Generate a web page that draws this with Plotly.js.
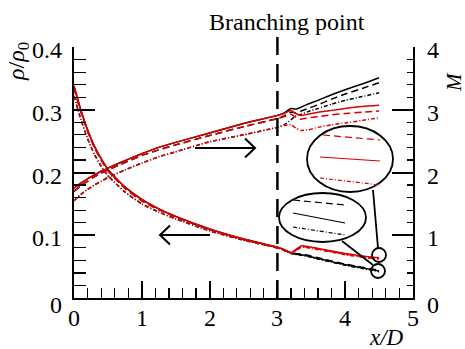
<!DOCTYPE html>
<html>
<head>
<meta charset="utf-8">
<script src="https://cdn.plot.ly/plotly-3.0.1.min.js"></script>
<style>
  html, body { margin: 0; padding: 0; background: #fff; }
  #chart { width: 465px; height: 349px; }
</style>
</head>
<body>
<div id="chart"></div>
<script>
// Streamwise stations (x/D) shared by all cases up to the branching point
const xPre = [0, 0.1, 0.2, 0.3, 0.4, 0.5, 0.75, 1.0, 1.25, 1.5, 2.0, 2.5, 3.0];
// Stations downstream of the branching point
const xPost = [3.1, 3.2, 3.27, 3.35, 3.45, 3.6, 3.8, 4.0, 4.25, 4.5];

// Density ratio rho/rho0 upstream of the branch (identical for both branches)
const rhoSolidPre   = [0.338, 0.300, 0.268, 0.242, 0.222, 0.205, 0.177, 0.157, 0.142, 0.130, 0.110, 0.094, 0.081];
const rhoDashPre    = [0.335, 0.297, 0.266, 0.240, 0.220, 0.203, 0.175, 0.155, 0.141, 0.129, 0.109, 0.093, 0.080];
const rhoDashDotPre = [0.322, 0.285, 0.254, 0.229, 0.210, 0.195, 0.169, 0.150, 0.137, 0.126, 0.107, 0.092, 0.080];

// Mach number upstream of the branch
const machSolidPre   = [1.75, 1.83, 1.90, 1.96, 2.02, 2.07, 2.19, 2.30, 2.40, 2.48, 2.63, 2.78, 2.91];
const machDashPre    = [1.70, 1.79, 1.86, 1.93, 1.99, 2.04, 2.16, 2.27, 2.36, 2.44, 2.59, 2.73, 2.86];
const machDashDotPre = [1.55, 1.65, 1.73, 1.80, 1.86, 1.92, 2.04, 2.15, 2.25, 2.33, 2.49, 2.60, 2.72];

// Downstream of the branch: black branch
const rhoBlackSolidPost   = [0.077, 0.072, 0.070, 0.069, 0.067, 0.063, 0.058, 0.053, 0.048, 0.043];
const rhoBlackDashPost    = [0.076, 0.072, 0.071, 0.070, 0.068, 0.064, 0.059, 0.054, 0.049, 0.044];
const rhoBlackDashDotPost = [0.076, 0.071, 0.069, 0.068, 0.066, 0.062, 0.057, 0.052, 0.047, 0.042];
const machBlackSolidPost   = [2.95, 3.02, 3.01, 3.04, 3.09, 3.15, 3.24, 3.32, 3.41, 3.51];
const machBlackDashPost    = [2.90, 2.96, 2.95, 2.98, 3.02, 3.08, 3.17, 3.25, 3.34, 3.43];
const machBlackDashDotPost = [2.76, 2.84, 2.90, 2.93, 2.97, 3.02, 3.09, 3.15, 3.21, 3.27];

// Downstream of the branch: red branch
const rhoRedSolidPost   = [0.077, 0.072, 0.077, 0.083, 0.082, 0.079, 0.075, 0.071, 0.067, 0.064];
const rhoRedDashPost    = [0.076, 0.072, 0.076, 0.082, 0.081, 0.078, 0.074, 0.070, 0.066, 0.063];
const rhoRedDashDotPost = [0.076, 0.071, 0.075, 0.081, 0.080, 0.077, 0.073, 0.069, 0.065, 0.062];
const machRedSolidPost   = [2.94, 2.99, 2.94, 2.91, 2.93, 2.96, 2.99, 3.02, 3.05, 3.07];
const machRedDashPost    = [2.89, 2.93, 2.88, 2.85, 2.87, 2.89, 2.92, 2.94, 2.96, 2.98];
const machRedDashDotPost = [2.75, 2.76, 2.71, 2.67, 2.68, 2.72, 2.76, 2.79, 2.83, 2.87];

// Axis tick values and their labels
const xTicks = [0, 1, 2, 3, 4, 5];
const xTickText = ['0', '1', '2', '3', '4', '5'];
const rhoTicks = [0, 0.1, 0.2, 0.3, 0.4];
const rhoTickText = ['0', '0.1', '0.2', '0.3', '0.4'];
const machTicks = [0, 1, 2, 3, 4];
const machTickText = ['0', '1', '2', '3', '4'];

const BLACK = '#000000';
const RED = '#d80000';
const DASH = '7px,4px';
const DASHDOT = '4px,2px,1px,2px';
const FONT = 'Liberation Serif';
const TICK_SIZE = 24;

const xAll = xPre.concat(xPost);

function curve(yPre, yPost, color, dash, axis) {
  return {
    x: xAll,
    y: yPre.concat(yPost),
    yaxis: axis,
    type: 'scatter',
    mode: 'lines',
    line: { color: color, width: 1.5, dash: dash, shape: 'spline', smoothing: 0.5 },
    hoverinfo: 'skip',
    showlegend: false
  };
}

// Black branch drawn first, red branch on top
const traces = [
  curve(rhoSolidPre, rhoBlackSolidPost, BLACK, 'solid', 'y'),
  curve(rhoDashPre, rhoBlackDashPost, BLACK, DASH, 'y'),
  curve(rhoDashDotPre, rhoBlackDashDotPost, BLACK, DASHDOT, 'y'),
  curve(machSolidPre, machBlackSolidPost, BLACK, 'solid', 'y2'),
  curve(machDashPre, machBlackDashPost, BLACK, DASH, 'y2'),
  curve(machDashDotPre, machBlackDashDotPost, BLACK, DASHDOT, 'y2'),
  curve(rhoSolidPre, rhoRedSolidPost, RED, 'solid', 'y'),
  curve(rhoDashPre, rhoRedDashPost, RED, DASH, 'y'),
  curve(rhoDashDotPre, rhoRedDashDotPost, RED, DASHDOT, 'y'),
  curve(machSolidPre, machRedSolidPost, RED, 'solid', 'y2'),
  curve(machDashPre, machRedDashPost, RED, DASH, 'y2'),
  curve(machDashDotPre, machRedDashDotPost, RED, DASHDOT, 'y2')
];

// Plot frame in pixels, used to place the callout decorations
const FR = { l: 74, r: 413, t: 47, b: 298 };
const px = v => (v - FR.l) / (FR.r - FR.l);
const py = v => (FR.b - v) / (FR.b - FR.t);

function seg(x0, y0, x1, y1, color, dash, width) {
  return { type: 'line', xref: 'paper', yref: 'paper',
    x0: px(x0), y0: py(y0), x1: px(x1), y1: py(y1),
    line: { color: color, width: width || 1.5, dash: dash || 'solid' } };
}
function ellipse(cx, cy, rx, ry) {
  return { type: 'circle', xref: 'paper', yref: 'paper',
    x0: px(cx - rx), x1: px(cx + rx), y0: py(cy + ry), y1: py(cy - ry),
    line: { color: BLACK, width: 1.8 }, fillcolor: 'rgba(255,255,255,1)' };
}
function chevron(pts) {
  return { type: 'path', xref: 'paper', yref: 'paper',
    path: 'M' + pts.map(p => px(p[0]) + ',' + py(p[1])).join(' L'),
    line: { color: BLACK, width: 2 } };
}

const shapes = [
  // branching point marker
  { type: 'line', xref: 'x', yref: 'paper', x0: 3, x1: 3, y0: 0, y1: py(37),
    line: { color: BLACK, width: 2.5, dash: '18px,9px' } },
  // direction arrows
  seg(195, 148, 255, 148, BLACK, 'solid', 2),
  chevron([[245, 138.5], [255, 148], [245, 157.5]]),
  seg(160, 235, 210, 235, BLACK, 'solid', 2),
  chevron([[170, 225.5], [160, 235], [170, 244.5]]),
  // callout connectors and end markers
  seg(373, 190, 378, 248, BLACK, 'solid', 1.8),
  seg(342, 241, 373, 265, BLACK, 'solid', 1.8),
  { type: 'circle', xref: 'paper', yref: 'paper', x0: px(372), x1: px(386), y0: py(262), y1: py(248),
    line: { color: BLACK, width: 1.8 } },
  { type: 'circle', xref: 'paper', yref: 'paper', x0: px(371), x1: px(385), y0: py(278), y1: py(264),
    line: { color: BLACK, width: 1.8 } },
  // red branch callout
  ellipse(350, 159, 43, 33),
  seg(323, 135, 380, 140, RED, DASH, 1.2),
  seg(320, 157, 380, 161, RED, 'solid', 1.2),
  seg(320, 178, 380, 185, RED, DASHDOT, 1.2),
  // black branch callout
  ellipse(322.5, 217.5, 43.5, 24.5),
  seg(293, 200, 345, 205, BLACK, DASH, 1.2),
  seg(293, 213, 345, 223, BLACK, 'solid', 1.2),
  seg(293, 227, 345, 235, BLACK, DASHDOT, 1.2)
];

function label(text, x, y, size, angle) {
  return { text: text, xref: 'paper', yref: 'paper', x: px(x), y: py(y),
    xanchor: 'center', yanchor: 'middle', textangle: angle || 0, showarrow: false,
    font: { family: FONT, size: size, color: BLACK } };
}

const annotations = [
  label('Branching point', 287, 22, 24),
  label('<i>ρ</i>/<i>ρ</i><sub>0</sub>', 18, 62, 24, -90),
  label('<i>M</i>', 454, 82, 21, -90),
  label('<i>x/D</i>', 386, 337, 23)
];

// Serif tick labels placed on the axis scales
const tickFont = { family: FONT, size: TICK_SIZE, color: BLACK };
xTicks.forEach((v, i) => annotations.push({
  text: xTickText[i], xref: 'x', x: v, yref: 'paper', y: py(318),
  xanchor: 'center', yanchor: 'middle', showarrow: false, font: tickFont
}));
rhoTicks.forEach((v, i) => annotations.push({
  text: rhoTickText[i], xref: 'paper', x: px(64), yref: 'y', y: v,
  xanchor: 'right', yanchor: 'middle', yshift: v === 0 ? -7 : -3, showarrow: false, font: tickFont
}));
machTicks.forEach((v, i) => annotations.push({
  text: machTickText[i], xref: 'paper', x: px(425), yref: 'y2', y: v,
  xanchor: 'left', yanchor: 'middle', yshift: v === 0 ? -7 : -3, showarrow: false, font: tickFont
}));

function axis(extra) {
  return Object.assign({
    showgrid: false, zeroline: false, showline: true, linecolor: BLACK, linewidth: 2,
    ticks: 'inside', tickcolor: BLACK, tickwidth: 2, showticklabels: false
  }, extra);
}

const layout = {
  width: 465, height: 349,
  font: { family: FONT, size: TICK_SIZE, color: BLACK },
  margin: { l: FR.l, r: 465 - FR.r, t: FR.t, b: 349 - FR.b, pad: 0 },
  paper_bgcolor: '#fff', plot_bgcolor: '#fff',
  showlegend: false,
  xaxis: axis({
    range: [0, 5], tickvals: xTicks, ticklen: 17,
    minor: { dtick: 0.2, ticks: 'inside', ticklen: 10, tickwidth: 1.2, tickcolor: BLACK }
  }),
  yaxis: axis({
    range: [0, 0.4], tickvals: rhoTicks, ticklen: 21,
    minor: { dtick: 0.02, ticks: 'inside', ticklen: 12, tickwidth: 1.2, tickcolor: BLACK }
  }),
  yaxis2: axis({
    overlaying: 'y', side: 'right', range: [0, 4], tickvals: machTicks, ticklen: 21,
    minor: { dtick: 0.2, ticks: 'inside', ticklen: 6, tickwidth: 1.2, tickcolor: BLACK }
  }),
  shapes: shapes,
  annotations: annotations
};

Plotly.newPlot('chart', traces, layout, { staticPlot: true, displayModeBar: false });
</script>
</body>
</html>
